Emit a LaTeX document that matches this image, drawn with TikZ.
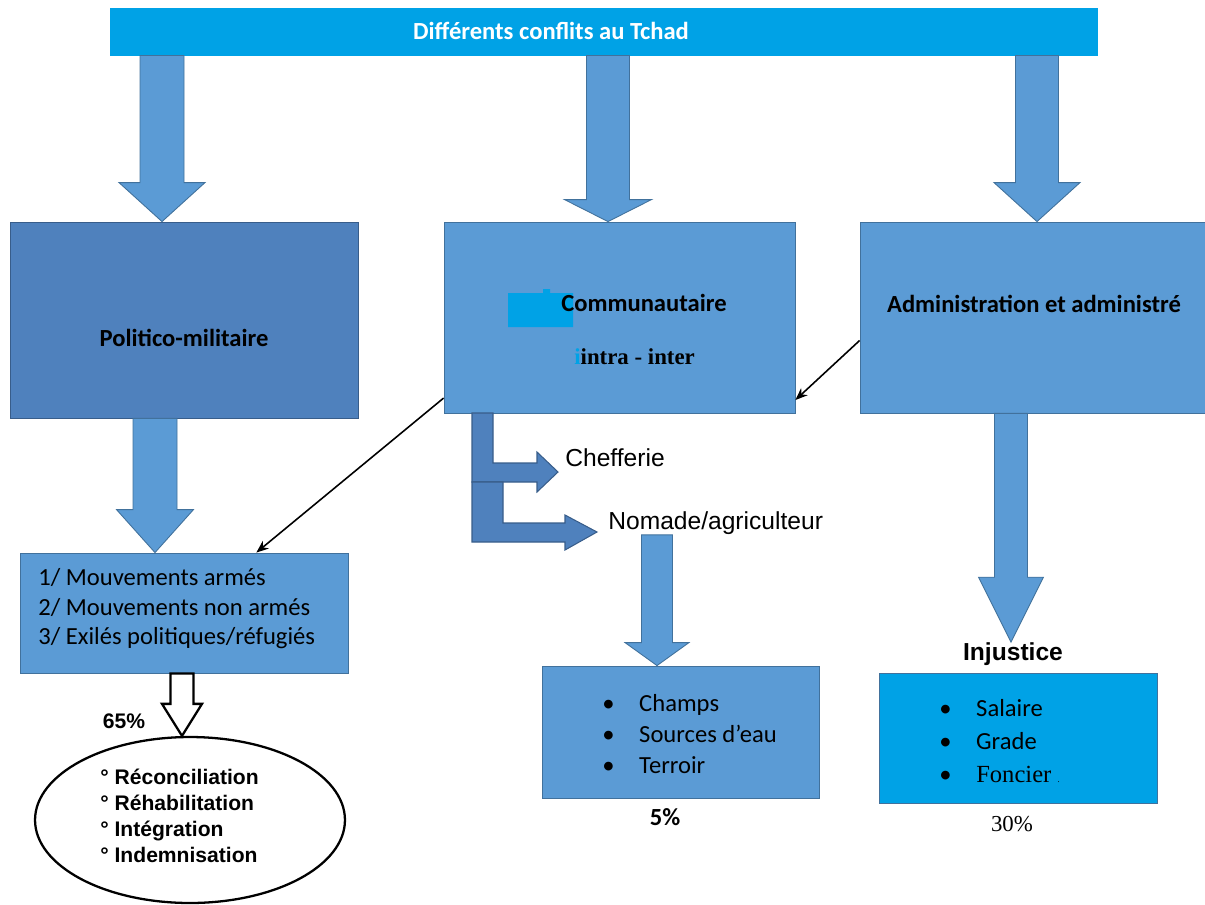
\documentclass[tikz,border=0pt]{standalone}
\usepackage{fontspec}
\setmainfont{Carlito}
\newfontfamily\arialfont{Liberation Sans}
\newfontfamily\timesfont{Liberation Serif}
\usetikzlibrary{calc,shapes.geometric,arrows.meta}

\definecolor{tchadcyan}{RGB}{0,162,230}
\definecolor{midblue}{RGB}{91,155,213}
\definecolor{darkblue}{RGB}{79,129,189}
\definecolor{midedge}{RGB}{65,113,156}
\definecolor{darkedge}{RGB}{56,93,138}

\tikzset{
  box/.style={rectangle, fill=midblue, draw=midedge, line width=0.5pt, inner sep=0pt},
  blockarrow/.style={fill=midblue, draw=midedge, line width=0.5pt},
  openarrow/.style={fill=white, draw=black, line width=1.3pt},
  bentarrow/.style={fill=darkblue, draw=darkedge, line width=0.6pt},
  thinarrow/.style={-{Stealth[length=7pt, width=5.5pt]}, line width=0.9pt},
  lbl/.style={inner sep=0pt, font=\bfseries\fontsize{14}{17}\selectfont},
  txt/.style={inner sep=0pt, align=left, anchor=west},
}

% block arrow pointing down: x centre, from, to, head length, shaft half, head half
\newcommand{\blockdown}[7][blockarrow]{%
  \path (#2,0 |- #3) coordinate (top) (#2,0 |- #4) coordinate (tip);
  \filldraw[#1] ($(top)+(-#6,0)$) -- ($(top)+(#6,0)$) -- ($(tip)+(#6,#5)$)
    -- ($(tip)+(#7,#5)$) -- (tip) -- ($(tip)+(-#7,#5)$) -- ($(tip)+(-#6,#5)$) -- cycle;
}

\begin{document}
\begin{tikzpicture}[x=0.02cm, y=0.02cm]
  \useasboundingbox (0,0) rectangle (1205,-904);

  % boxes
  \node[box, fill=tchadcyan, draw=tchadcyan, minimum width=19.76cm, minimum height=0.94cm] (banner) at (604,-31.5) {};
  \node[lbl, text=white] (title) at (551,-31) {Différents conflits au Tchad};
  \node[box, fill=darkblue, draw=darkedge, minimum width=6.96cm, minimum height=3.92cm] (pm) at (184,-320) {};
  \node[box, minimum width=7.02cm, minimum height=3.82cm] (comm) at (619.5,-317.5) {};
  \node[box, minimum width=7.04cm, minimum height=3.82cm] (admin) at (1036,-317.5) {};
  \node[box, minimum width=6.56cm, minimum height=2.4cm] (list) at (184,-613) {};
  \node[box, minimum width=5.54cm, minimum height=2.64cm] (champs) at (680.5,-732) {};
  \node[box, fill=tchadcyan, draw=midedge, minimum width=5.56cm, minimum height=2.6cm] (injbox) at (1018,-738) {};
  \node[ellipse, draw, line width=1.3pt, fill=white, minimum width=6.2cm, minimum height=3.32cm] (remedy) at (190,-820) {};

  % labels
  \node[lbl] (pmtext) at (184,-338) {Politico-militaire};
  \fill[tchadcyan] (508,-293) rectangle (573,-327) (543,-289) rectangle (550,-293);
  \node[lbl] (commtext) at (644,-303) {Communautaire};
  \node[txt, font=\timesfont\bfseries\fontsize{13}{15}\selectfont] (intra) at (574,-357) {{\color{tchadcyan}i}intra - inter};
  \node[lbl] (admintext) at (1034,-304) {Administration et administré};
  \node[txt, font=\arialfont\fontsize{14}{17}\selectfont] (chef) at (565,-458) {Chefferie};
  \node[txt, font=\arialfont\fontsize{14}{17}\selectfont] (nomade) at (608,-523) {Nomade/agriculteur};
  \node[txt, font=\fontsize{14}{16.8}\selectfont] (listtext) at (38,-609)
    {1/ Mouvements armés\\2/ Mouvements non armés\\3/ Exilés politiques/réfugiés};
  \node[txt, font=\arialfont\bfseries\fontsize{12}{14.7}\selectfont] (remtext) at (100,-816)
    {° Réconciliation\\° Réhabilitation\\° Intégration\\° Indemnisation};
  \node[inner sep=0pt, font=\arialfont\bfseries\fontsize{12}{14}\selectfont] (pct65) at (124,-721) {65\%};
  \node[txt, font=\fontsize{14}{17.6}\selectfont] (champstext) at (602,-734)
    {\makebox[21pt][l]{\textbullet}Champs\\\makebox[21pt][l]{\textbullet}Sources d’eau\\\makebox[21pt][l]{\textbullet}Terroir};
  \node[inner sep=0pt, font=\bfseries\fontsize{14}{16}\selectfont] (pct5) at (665,-817) {5\%};
  \node[inner sep=0pt, font=\arialfont\bfseries\fontsize{14}{16}\selectfont] (injustice) at (1013,-654) {Injustice};
  \node[txt, font=\fontsize{14}{18.7}\selectfont] (injtext) at (939,-741)
    {\makebox[21pt][l]{\textbullet}Salaire\\\makebox[21pt][l]{\textbullet}Grade\\\makebox[21pt][l]{\textbullet}{\timesfont Foncier {\tiny .}}};
  \node[inner sep=0pt, font=\timesfont\fontsize{13}{15}\selectfont] (pct30) at (1012,-824) {30\%};

  % block arrows
  \blockdown{162}{banner.south}{pm.north}{39}{22}{43}
  \blockdown{608}{banner.south}{comm.north}{22}{21.5}{43.5}
  \blockdown{1037}{banner.south}{admin.north}{39}{21.5}{43}
  \blockdown{155}{pm.south}{list.north}{43}{22}{38.5}
  \blockdown{1011}{admin.south}{injustice.north}{65}{16.5}{32.5}
  \blockdown{657}{nomade.south}{champs.north}{23}{15.5}{32}
  \blockdown[openarrow]{182}{list.south}{remedy.north}{32}{11.5}{20}

  % bent arrows
  \filldraw[bentarrow] (472,-413) -- (493,-413) -- (493,-463) -- (537,-463) -- (537,-452)
    -- (558,-472) -- (537,-492) -- (537,-482) -- (472,-482) -- cycle;
  \filldraw[bentarrow] (472,-482) -- (503,-482) -- (503,-523) -- (565,-523) -- (565,-515)
    -- (597,-532) -- (565,-550) -- (565,-542) -- (472,-542) -- cycle;

  % thin arrows
  \draw[thinarrow] ($(admin.south west)!0.38!(admin.north west)$) -- ($(comm.south east)!0.07!(comm.north east)$);
  \draw[thinarrow] ($(comm.south west)!0.08!(comm.north west)$) -- ($(list.north west)!0.72!(list.north east)$);
\end{tikzpicture}
\end{document}
